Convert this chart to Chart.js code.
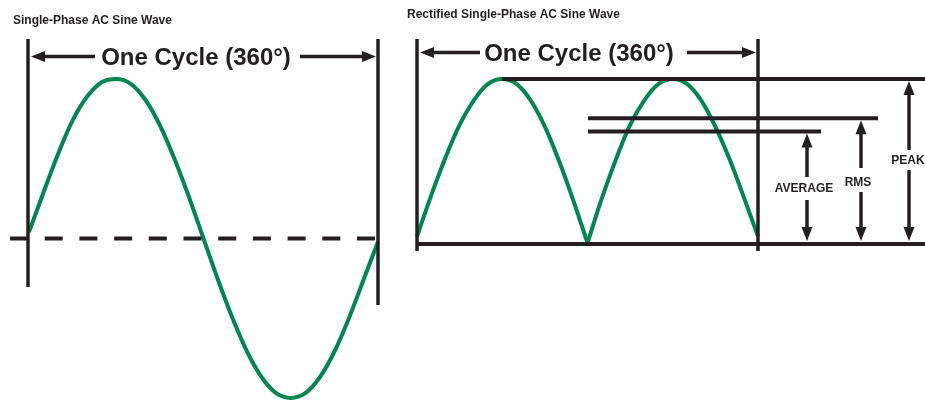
<!DOCTYPE html>
<html>
<head>
<meta charset="utf-8">
<script src="https://cdn.jsdelivr.net/npm/chart.js@4.4.0/dist/chart.umd.min.js"></script>
<style>
body { margin: 0; background: #fff; }
#wrap { position: relative; width: 925px; height: 401px; }
canvas { position: absolute; left: 0; top: 0; }
</style>
</head>
<body>
<div id="wrap">
  <canvas id="sineChart" width="925" height="401"></canvas>
  <canvas id="rectChart" width="925" height="401"></canvas>
</div>
<script>
// Values (angle in degrees, amplitude relative to peak)
const sineAngles = [0, 15, 30, 45, 60, 75, 90, 105, 120, 135, 150, 165, 180,
                    195, 210, 225, 240, 255, 270, 285, 300, 315, 330, 345, 360];
const sineValues = [0.04, 0.29, 0.53, 0.74, 0.89, 0.98, 1.0, 0.97, 0.87, 0.71, 0.5, 0.26, 0.0,
                    -0.26, -0.5, -0.71, -0.87, -0.97, -1.0, -0.97, -0.87, -0.71, -0.5, -0.26, -0.02];

const humpOneAngles = [0, 15, 30, 45, 60, 75, 90, 105, 120, 135, 150, 165, 180];
const humpOneValues = [0.04, 0.29, 0.52, 0.72, 0.87, 0.97, 1.0, 0.97, 0.87, 0.71, 0.5, 0.26, 0.0];
const humpTwoAngles = [180, 195, 210, 225, 240, 255, 270, 285, 300, 315, 330, 345, 360];
const humpTwoValues = [0.0, 0.27, 0.51, 0.72, 0.87, 0.97, 1.0, 0.97, 0.87, 0.71, 0.51, 0.28, 0.04];

const cycleBounds = [0, 360];
const levelNames = ['AVERAGE', 'RMS', 'PEAK'];
const levelValues = [0.68, 0.76, 1.0];
const titles = ['Single-Phase AC Sine Wave', 'Rectified Single-Phase AC Sine Wave'];
const cycleLabel = 'One Cycle (360\u00B0)';

const GREEN = '#00874f';
const INK = '#231f20';
const FONT = '"Liberation Sans", Arial, sans-serif';

function line(ctx, x1, y1, x2, y2, w, dash) {
    ctx.save();
    ctx.strokeStyle = INK;
    ctx.lineWidth = w;
    ctx.setLineDash(dash || []);
    ctx.beginPath();
    ctx.moveTo(x1, y1);
    ctx.lineTo(x2, y2);
    ctx.stroke();
    ctx.restore();
}

// dir: 'left' | 'right' | 'up' | 'down' ; (x, y) is the tip
function arrowHead(ctx, x, y, dir) {
    const len = 14, half = 5.5;
    ctx.save();
    ctx.fillStyle = INK;
    ctx.beginPath();
    ctx.moveTo(x, y);
    if (dir === 'left') { ctx.lineTo(x + len, y - half); ctx.lineTo(x + len, y + half); }
    if (dir === 'right') { ctx.lineTo(x - len, y - half); ctx.lineTo(x - len, y + half); }
    if (dir === 'up') { ctx.lineTo(x - half, y + len); ctx.lineTo(x + half, y + len); }
    if (dir === 'down') { ctx.lineTo(x - half, y - len); ctx.lineTo(x + half, y - len); }
    ctx.closePath();
    ctx.fill();
    ctx.restore();
}

function text(ctx, str, x, y, size, align) {
    ctx.save();
    ctx.fillStyle = INK;
    ctx.font = 'bold ' + size + 'px ' + FONT;
    ctx.textAlign = align || 'left';
    ctx.textBaseline = 'alphabetic';
    ctx.fillText(str, x, y);
    ctx.restore();
}

// horizontal "<--- One Cycle (360°) --->" between two x pixels
function cycleArrow(ctx, xa, xb, y, leftEnd, rightStart, textX) {
    line(ctx, xa + 10, y, leftEnd, y, 3.5);
    arrowHead(ctx, xa, y, 'left');
    line(ctx, rightStart, y, xb - 10, y, 3.5);
    arrowHead(ctx, xb, y, 'right');
    text(ctx, cycleLabel, textX, y + 8.5, 24, 'center');
}

const sineGuides = {
    id: 'sineGuides',
    afterDatasetsDraw(chart) {
        const { ctx, scales: { x, y } } = chart;
        const x0 = x.getPixelForValue(cycleBounds[0]) - 1;
        const x1 = x.getPixelForValue(cycleBounds[1]);
        const yZero = y.getPixelForValue(0);
        line(ctx, 10, yZero, x1, yZero, 4, [18, 16.7]);
        line(ctx, x0, 39, x0, 287, 3.5);
        line(ctx, x1, 39, x1, 305, 3.5);
        cycleArrow(ctx, x0 + 3, x1 - 2, 56.5, 95, 300, 196);
        text(ctx, titles[0], 13, 24, 12);
    }
};

const rectGuides = {
    id: 'rectGuides',
    afterDatasetsDraw(chart) {
        const { ctx, scales: { x, y } } = chart;
        const x0 = x.getPixelForValue(cycleBounds[0]);
        const x1 = x.getPixelForValue(cycleBounds[1]);
        const yBase = y.getPixelForValue(0) + 1;
        const yAvg = y.getPixelForValue(levelValues[0]);
        const yRms = y.getPixelForValue(levelValues[1]);
        const yPeak = y.getPixelForValue(levelValues[2]);

        line(ctx, x0, 39, x0, 251, 3.5);
        line(ctx, x1, 39, x1, 251, 3.5);
        line(ctx, x0, yBase, 925, yBase, 4);
        line(ctx, 502, yPeak, 925, yPeak, 4);
        line(ctx, 588, yRms, 878, yRms, 4);
        line(ctx, 588, yAvg, 821, yAvg, 4);

        // level arrows with labels
        const arrows = [
            { x: 807, top: yAvg + 2, gapTop: 177, gapBottom: 200, labelY: 192 },
            { x: 861, top: yRms + 2, gapTop: 168, gapBottom: 192, labelY: 186 },
            { x: 909, top: yPeak + 2, gapTop: 150, gapBottom: 170, labelY: 164 }
        ];
        arrows.forEach((a, i) => {
            const bottom = yBase - 3;
            line(ctx, a.x, a.top + 10, a.x, a.gapTop, 3.5);
            arrowHead(ctx, a.x, a.top, 'up');
            line(ctx, a.x, a.gapBottom, a.x, bottom - 10, 3.5);
            arrowHead(ctx, a.x, bottom, 'down');
            text(ctx, levelNames[i], i === 2 ? 908 : a.x - 3, a.labelY, 12, 'center');
        });

        cycleArrow(ctx, x0 + 3, x1 - 2, 52.5, 480, 687, 579);
        text(ctx, titles[1], 407, 18, 12);
    }
};

function baseOptions(padding, yMin, yMax) {
    return {
        responsive: false,
        animation: false,
        devicePixelRatio: 1,
        layout: { padding: padding },
        scales: {
            x: { type: 'linear', min: 0, max: 360, display: false },
            y: { min: yMin, max: yMax, display: false }
        },
        plugins: { legend: { display: false }, tooltip: { enabled: false } }
    };
}

function curve(angles, values) {
    return {
        data: angles.map((a, i) => ({ x: a, y: values[i] })),
        borderColor: GREEN,
        borderWidth: 4,
        pointRadius: 0,
        cubicInterpolationMode: 'monotone',
        clip: false
    };
}

new Chart(document.getElementById('sineChart'), {
    type: 'line',
    data: { datasets: [curve(sineAngles, sineValues)] },
    options: baseOptions({ left: 29, right: 547, top: 79, bottom: 3 }, -1, 1),
    plugins: [sineGuides]
});

new Chart(document.getElementById('rectChart'), {
    type: 'line',
    data: { datasets: [curve(humpOneAngles, humpOneValues), curve(humpTwoAngles, humpTwoValues)] },
    options: baseOptions({ left: 417, right: 167, top: 79, bottom: 158 }, 0, 1),
    plugins: [rectGuides]
});
</script>
</body>
</html>
